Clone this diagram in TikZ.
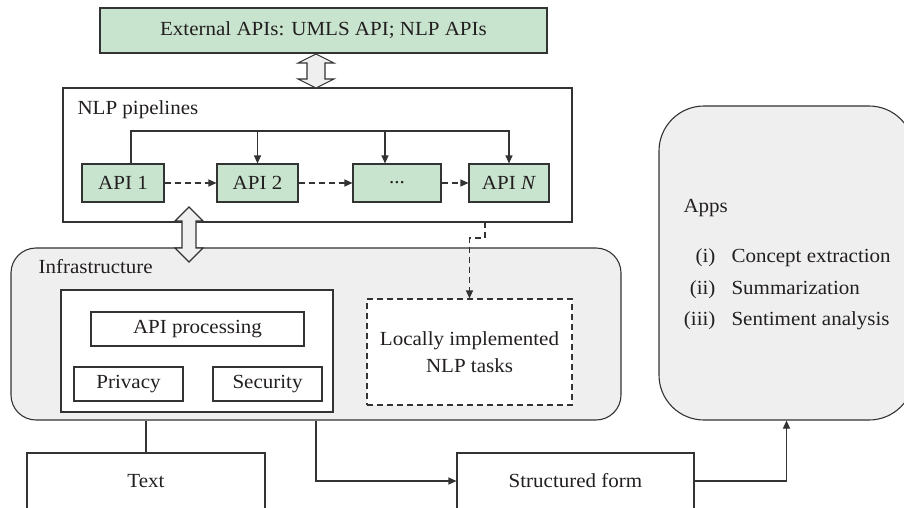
\documentclass[tikz,border=0pt]{standalone}
\usepackage{fontspec}
\setmainfont{Liberation Serif}[FakeStretch=1.05]
\usetikzlibrary{arrows.meta}
\definecolor{grn}{HTML}{C8E4CE}
\definecolor{gry}{HTML}{EFEFEF}
\definecolor{lncol}{HTML}{333333}
\definecolor{tx}{HTML}{231F20}
\begin{document}
\begin{tikzpicture}[x=1pt,y=-1pt,
  every node/.style={font=\fontsize{20}{27}\selectfont, text=tx},
  box/.style={draw=lncol, line width=1.1pt, inner sep=0pt, rectangle},
  gbox/.style={box, fill=grn},
  conn/.style={draw=lncol, line width=1.1pt},
  arr/.style={conn, -{Triangle[length=8pt,width=7pt]}},
  dsh/.style={dash pattern=on 6pt off 4pt},
  dbl/.style={draw=lncol, line width=1.1pt, fill=gry, line join=miter}
]
\useasboundingbox (0,0) rectangle (904,508);
\clip (0,0) rectangle (904,508);

% top external box
\node[gbox, minimum width=447pt, minimum height=45pt] (ext) at (323.5,30.5) {External APIs: UMLS API; NLP APIs};

% NLP pipelines
\node[box, fill=white, minimum width=509pt, minimum height=134pt] (nlp) at (317.5,155) {};
\node[anchor=base west] (nlpl) at (74,115) {NLP pipelines};
\node[gbox, minimum width=82pt, minimum height=38pt] (api1) at (123,183) {API 1};
\node[gbox, minimum width=81pt, minimum height=38pt] (api2) at (257.5,183) {API 2};
\node[gbox, minimum width=88pt, minimum height=38pt] (dots) at (397,183) {...};
\node[gbox, minimum width=80pt, minimum height=38pt] (apin) at (509,183) {API \textit{N}};

\coordinate (busL) at (131,131);
\coordinate (busD) at (385,131);
\draw[arr] (api1.north -| busL) -- (busL) -- (busL -| apin.north) -- (apin.north);
\draw[arr] (api2.north |- busL) -- (api2.north);
\draw[arr] (busD) -- (busD |- dots.north);
\draw[arr, dsh] (api1.east) -- (api2.west);
\draw[arr, dsh] (api2.east) -- (dots.west);
\draw[arr, dsh] (dots.east) -- (apin.west);

% Infrastructure
\node[box, fill=gry, rounded corners=25pt, minimum width=610pt, minimum height=172pt] (infra) at (316,334) {};
\node[anchor=base west] (infral) at (35,273) {Infrastructure};
\node[box, fill=white, minimum width=272pt, minimum height=122pt] (inner) at (197,351) {};
\node[box, fill=white, minimum width=213pt, minimum height=34pt] (apiproc) at (197.5,329) {API processing};
\node[box, fill=white, minimum width=109pt, minimum height=34pt] (priv) at (128.5,384) {Privacy};
\node[box, fill=white, minimum width=109pt, minimum height=34pt] (sec) at (267.5,384) {Security};
\node[box, dsh, fill=white, minimum width=205pt, minimum height=106pt, align=center] (local) at (469.5,352) {Locally implemented\\NLP tasks};

% dashed connector from pipelines to local tasks
\coordinate (dstart) at (485,222);
\coordinate (dbend) at (485,238);
\draw[arr, dsh] (dstart) -- (dbend) -- (dbend -| local.north) -- (local.north);

% double arrows
\draw[dbl] (316,54) -- (334,63) -- (325,63) -- (325,79) -- (334,79) -- (316,88)
  -- (298,79) -- (307,79) -- (307,63) -- (298,63) -- cycle;
\draw[dbl] (189,207) -- (203,221) -- (196,221) -- (196,248) -- (203,248) -- (189,262)
  -- (175,248) -- (182,248) -- (182,221) -- (175,221) -- cycle;

% Apps
\node[box, fill=gry, rounded corners=45pt, minimum width=255pt, minimum height=314pt] (apps) at (786.5,263) {};
\node[anchor=base west] (appsl) at (680,212) {Apps};
\node[anchor=base east] (n1) at (719,262) {(i)};
\node[anchor=base west] (t1) at (728,262) {Concept extraction};
\node[anchor=base east] (n2) at (719,294) {(ii)};
\node[anchor=base west] (t2) at (728,294) {Summarization};
\node[anchor=base east] (n3) at (719,325) {(iii)};
\node[anchor=base west] (t3) at (728,325) {Sentiment analysis};

% bottom boxes
\node[box, fill=white, minimum width=238pt, minimum height=56pt] (text) at (146,481) {Text};
\node[box, fill=white, minimum width=237pt, minimum height=56pt] (struct) at (575.5,481) {Structured form};

\draw[conn] (text.north) -- (text.north |- infra.south);
\draw[arr] (infra.south) |- (struct.west);
\draw[arr] (struct.east) -| (apps.south);
\end{tikzpicture}
\end{document}
